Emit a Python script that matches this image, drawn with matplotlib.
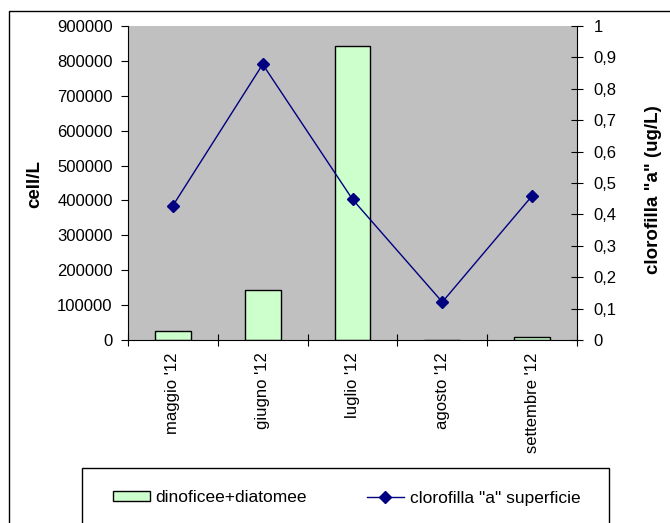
import numpy as np
import matplotlib
matplotlib.use("Agg")
import matplotlib.pyplot as plt
from matplotlib.patches import Rectangle
from matplotlib.lines import Line2D
from matplotlib.ticker import FuncFormatter

plt.rcParams['font.family'] = ['Liberation Sans', 'DejaVu Sans']

# data
mesi = ["maggio '12", "giugno '12", "luglio '12", "agosto '12", "settembre '12"]
cellule = [26000, 143000, 843000, 0, 8000]
clorofilla = [0.428, 0.878, 0.448, 0.121, 0.459]

W, H = 670, 523
fig = plt.figure(figsize=(W / 100, H / 100), dpi=100)

# outer chart border (cropped on the right and bottom)
fig.patches.append(Rectangle((9 / W, -0.05), 1.2, 1 - 11 / H + 0.05,
                             transform=fig.transFigure, fill=False,
                             edgecolor='black', linewidth=1.0))

ax = fig.add_axes([128 / W, 1 - 340 / H, (577 - 128) / W, (340 - 26) / H])
ax.set_facecolor('#C0C0C0')
x = np.arange(len(mesi))
ax.bar(x, cellule, width=0.4, color='#CCFFCC', edgecolor='black',
       linewidth=1.0, zorder=2)
ax.set_xlim(-0.5, len(mesi) - 0.5)
ax.set_ylim(0, 900000)
ax.set_yticks(np.arange(0, 900001, 100000))
ax.tick_params(axis='y', direction='out', length=5, labelsize=12, pad=6)

# category boundaries get the ticks, centres get the labels
ax.set_xticks(np.arange(-0.5, len(mesi)), minor=False)
ax.set_xticklabels([])
ax.tick_params(axis='x', which='major', direction='inout', length=8)
ax.set_xticks(x, minor=True)
ax.set_xticklabels(mesi, minor=True, rotation=90, fontsize=12)
ax.tick_params(axis='x', which='minor', length=0, pad=9)

ax.spines['top'].set_visible(False)
ax.spines['right'].set_visible(False)

ax2 = ax.twinx()
ax2.plot(x, clorofilla, color='#000080', linewidth=1.0, marker='D',
         markersize=6, zorder=3)
ax2.set_ylim(0, 1)
ax2.set_yticks(np.arange(0, 1.01, 0.1))
ax2.yaxis.set_major_formatter(FuncFormatter(
    lambda v, p: '0' if abs(v) < 1e-9 else ('1' if abs(v - 1) < 1e-9
                                            else f'{v:.1f}'.replace('.', ','))))
ax2.tick_params(axis='y', direction='inout', length=8, labelsize=12, pad=8)
ax2.spines['top'].set_visible(False)
ax2.spines['left'].set_visible(False)
ax2.spines['bottom'].set_visible(False)

# axis titles
fig.text(35 / W, 1 - 184 / H, 'cell/L', rotation=90, fontsize=13.5,
         fontweight='bold', ha='center', va='center')
fig.text(653 / W, 1 - 190 / H, 'clorofilla "a" (ug/L)', rotation=90,
         fontsize=13.5, fontweight='bold', ha='center', va='center')

# legend box (cropped at the bottom)
fig.patches.append(Rectangle((82 / W, -0.05), (609 - 82) / W,
                             1 - 468 / H + 0.05, transform=fig.transFigure,
                             fill=False, edgecolor='black', linewidth=1.0))
h_bar = Rectangle((0, 0), 1, 1, facecolor='#CCFFCC', edgecolor='black',
                  linewidth=1.0)
h_line = Line2D([], [], color='#000080', linewidth=1.0, marker='D',
                markersize=6)
fig.legend([h_bar, h_line], ['dinoficee+diatomee', 'clorofilla "a" superficie'],
           loc='center left', bbox_to_anchor=(101 / W, 1 - 498 / H), ncol=2,
           frameon=False, fontsize=12.5, handlelength=2.1, handleheight=0.5,
           handletextpad=0.35, columnspacing=3.45, borderpad=0.2)

fig.savefig('out.png', dpi=100)
